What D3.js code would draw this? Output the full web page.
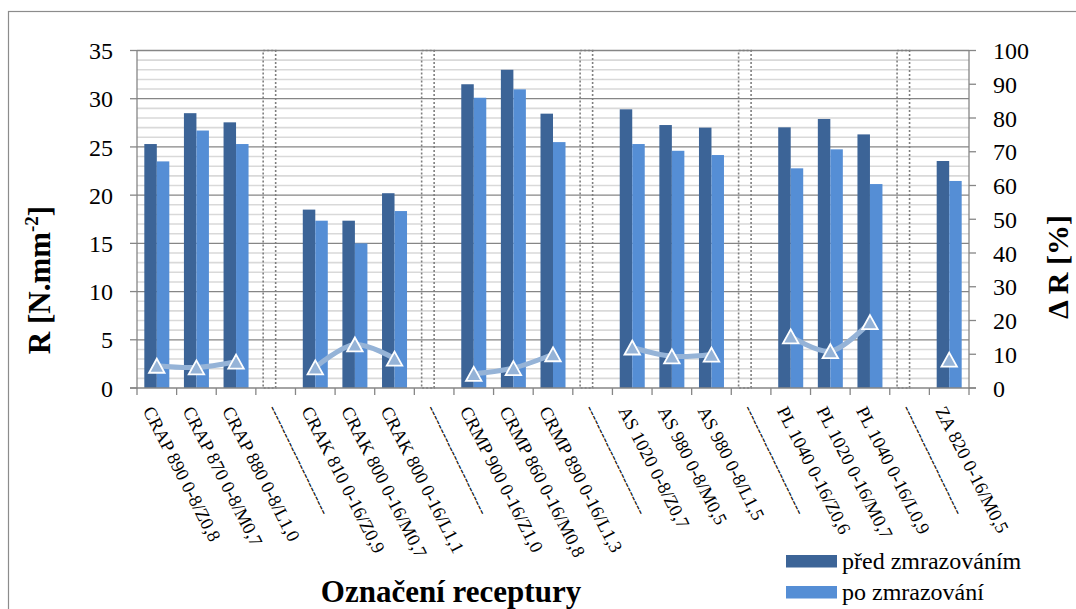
<!DOCTYPE html>
<html>
<head>
<meta charset="utf-8">
<script src="https://cdn.jsdelivr.net/npm/d3@7/dist/d3.min.js"></script>
<style>
  html, body { margin: 0; padding: 0; background: #fff; }
  svg { display: block; }
  text { font-family: "Liberation Serif", "Times New Roman", serif; fill: #000; }
</style>
</head>
<body>
<svg id="chart" width="1076" height="609"></svg>
<script>
// ---- data ----
const SEP = "------------------------";
const categories = [
  "CRAP 890 0-8/Z0,8", "CRAP 870 0-8/M0,7", "CRAP 880 0-8/L1,0", SEP,
  "CRAK 810 0-16/Z0,9", "CRAK 800 0-16/M0,7", "CRAK 800 0-16/L1,1", SEP,
  "CRMP 900 0-16/Z1,0", "CRMP 860 0-16/M0,8", "CRMP 890 0-16/L1,3", SEP,
  "AS 1020 0-8/Z0,7", "AS 980 0-8/M0,5", "AS 980 0-8/L1,5", SEP,
  "PL 1040 0-16/Z0,6", "PL 1020 0-16/M0,7", "PL 1040 0-16/L0,9", SEP,
  "ZA 820 0-16/M0,5"
];
const predValues = [25.3, 28.5, 27.55, null, 18.5, 17.35, 20.2, null, 31.5, 33.0, 28.45, null,
                    28.9, 27.27, 27.0, null, 27.03, 27.9, 26.3, null, 23.54];
const poValues   = [23.5, 26.7, 25.3, null, 17.35, 15.0, 18.35, null, 30.1, 30.97, 25.5, null,
                    25.3, 24.6, 24.16, null, 22.78, 24.75, 21.15, null, 21.47];
const separatorValues = [null, null, null, 35, null, null, null, 35, null, null, null, 35,
                         null, null, null, 35, null, null, null, 35, null];
const deltaR = [6.6, 6.1, 7.8, null, 6.1, 12.9, 8.7, null, 4.2, 5.9, 10.0, null,
                12.0, 9.4, 9.9, null, 15.3, 10.9, 19.5, null, 8.4];
const leftTicks = [0, 5, 10, 15, 20, 25, 30, 35];
const rightTicks = [0, 10, 20, 30, 40, 50, 60, 70, 80, 90, 100];
const seriesNames = ["před zmrazováním", "po zmrazování"];
const yTitle = "R [N.mm";
const yTitleSup = "-2";
const y2Title = "Δ R [%]";
const xTitle = "Označení receptury";

// ---- layout ----
const L = 137, R = 969, T = 50.5, B = 388;
const cDark = "#3c6497", cLight = "#558ed5", cLine = "#95b3d7", axisCol = "#868686";

const svg = d3.select("#chart");

// outer border
svg.append("rect").attr("x", 8.5).attr("y", 11.5).attr("width", 1100).attr("height", 700)
  .attr("fill", "none").attr("stroke", "#8c8c8c").attr("stroke-width", 1.2);

const idx = d3.range(categories.length);
const x = d3.scaleBand().domain(idx).range([L, R]).paddingInner(0).paddingOuter(0);
const xi = d3.scaleBand().domain(["pred", "po"]).range([0, x.bandwidth()]).paddingInner(0).paddingOuter(0.585);
const y = d3.scaleLinear().domain([0, 35]).range([B, T]);
const y2 = d3.scaleLinear().domain([0, 100]).range([B, T]);

// minor gridlines
const minor = d3.range(1, 35).filter(v => v % 5 !== 0);
svg.append("g").selectAll("line").data(minor).join("line")
  .attr("x1", L).attr("x2", R).attr("y1", d => y(d)).attr("y2", d => y(d))
  .attr("stroke", "#d9d9d9").attr("stroke-width", 1.6);
// major gridlines
svg.append("g").selectAll("line").data(leftTicks.filter(v => v > 0)).join("line")
  .attr("x1", L).attr("x2", R).attr("y1", d => y(d)).attr("y2", d => y(d))
  .attr("stroke", axisCol).attr("stroke-width", 1.3);

// bars
svg.append("g").selectAll("rect").data(idx.filter(i => predValues[i] != null)).join("rect")
  .attr("x", i => x(i) + xi("pred")).attr("width", xi.bandwidth())
  .attr("y", i => y(predValues[i])).attr("height", i => B - y(predValues[i]))
  .attr("fill", cDark);
svg.append("g").selectAll("rect").data(idx.filter(i => poValues[i] != null)).join("rect")
  .attr("x", i => x(i) + xi("po")).attr("width", xi.bandwidth())
  .attr("y", i => y(poValues[i])).attr("height", i => B - y(poValues[i]))
  .attr("fill", cLight);

// separator (dotted outline bars)
svg.append("g").selectAll("rect").data(idx.filter(i => separatorValues[i] != null)).join("rect")
  .attr("x", i => x(i) + xi("pred")).attr("width", xi.bandwidth())
  .attr("y", i => y(separatorValues[i])).attr("height", i => B - y(separatorValues[i]))
  .attr("fill", "none").attr("stroke", "#7f7f7f").attr("stroke-width", 1.6)
  .attr("stroke-dasharray", "2,2");

// axes lines
svg.append("line").attr("x1", L).attr("x2", L).attr("y1", T).attr("y2", B + 0.5)
  .attr("stroke", axisCol).attr("stroke-width", 1.3);
svg.append("line").attr("x1", R).attr("x2", R).attr("y1", T).attr("y2", B + 0.5)
  .attr("stroke", axisCol).attr("stroke-width", 1.3);
svg.append("line").attr("x1", L - 7).attr("x2", R + 7).attr("y1", B).attr("y2", B)
  .attr("stroke", axisCol).attr("stroke-width", 1.3);

// left ticks + labels
const gl = svg.append("g");
gl.selectAll("line").data(leftTicks).join("line")
  .attr("x1", L - 7).attr("x2", L).attr("y1", d => y(d)).attr("y2", d => y(d))
  .attr("stroke", axisCol).attr("stroke-width", 1.3);
gl.selectAll("text").data(leftTicks).join("text")
  .attr("x", L - 24).attr("y", d => y(d)).attr("dy", "0.36em")
  .attr("text-anchor", "end").attr("font-size", 24).text(d => d);

// right ticks + labels
const gr = svg.append("g");
gr.selectAll("line").data(rightTicks).join("line")
  .attr("x1", R).attr("x2", R + 7).attr("y1", d => y2(d)).attr("y2", d => y2(d))
  .attr("stroke", axisCol).attr("stroke-width", 1.3);
gr.selectAll("text").data(rightTicks).join("text")
  .attr("x", R + 24).attr("y", d => y2(d)).attr("dy", "0.36em")
  .attr("text-anchor", "start").attr("font-size", 24).text(d => d);

// bottom ticks (category boundaries)
const bounds = d3.range(categories.length + 1);
svg.append("g").selectAll("line").data(bounds).join("line")
  .attr("x1", i => L + i * x.step()).attr("x2", i => L + i * x.step())
  .attr("y1", B).attr("y2", B + 7)
  .attr("stroke", axisCol).attr("stroke-width", 1.3);

// category labels (rotated)
const angle = 63;
const g = svg.append("g");
g.selectAll("text").data(idx.filter(i => categories[i] !== SEP)).join("text")
  .attr("transform", i => `translate(${x(i) + x.bandwidth() / 2 - 8.5},${407.5}) rotate(${angle})`)
  .attr("dy", "0.35em")
  .attr("font-size", 18.5)
  .attr("text-anchor", "start")
  .text(i => categories[i]);
g.selectAll("text.sep").data(idx.filter(i => categories[i] === SEP)).join("text")
  .attr("class", "sep")
  .attr("transform", i => `translate(${x(i) + x.bandwidth() / 2 - 3},${406}) rotate(${angle + 1})`)
  .attr("dy", "0.3em")
  .attr("font-size", 15)
  .attr("text-anchor", "start")
  .text(i => categories[i]);

// delta R line
const pts = idx.map(i => deltaR[i] == null ? null : [x(i) + x.bandwidth() / 2, y2(deltaR[i])]);
const line = d3.line().defined(d => d != null).curve(d3.curveCatmullRom.alpha(0.5));
svg.append("path").attr("d", line(pts)).attr("fill", "none")
  .attr("stroke", cLine).attr("stroke-width", 5).attr("stroke-linecap", "round");

// triangle markers
const tw = 15.5, th = 14;
svg.append("g").selectAll("path").data(pts.filter(p => p != null)).join("path")
  .attr("d", p => `M${p[0]},${p[1] - th / 2} L${p[0] + tw / 2},${p[1] + th / 2} L${p[0] - tw / 2},${p[1] + th / 2} Z`)
  .attr("fill", cLine).attr("stroke", "#fff").attr("stroke-width", 1.8).attr("stroke-linejoin", "miter");

// axis titles
const yt = svg.append("text").attr("transform", "translate(50,280) rotate(-90)")
  .attr("text-anchor", "middle").attr("font-size", 31).attr("font-weight", "bold");
yt.append("tspan").text(yTitle);
yt.append("tspan").attr("font-size", 19).attr("dy", -12).text(yTitleSup);
yt.append("tspan").attr("dy", 12).text("]");

svg.append("text").attr("transform", "translate(1068,267) rotate(-90)")
  .attr("text-anchor", "middle").attr("font-size", 30).attr("font-weight", "bold").text(y2Title);

svg.append("text").attr("x", 451).attr("y", 602).attr("text-anchor", "middle")
  .attr("font-size", 31).attr("font-weight", "bold").text(xTitle);

// legend
const colors = [cDark, cLight];
const lg = svg.append("g");
seriesNames.forEach((n, k) => {
  lg.append("rect").attr("x", 786).attr("y", 555 + k * 31).attr("width", 51).attr("height", 12.5)
    .attr("fill", colors[k]);
  lg.append("text").attr("x", 842).attr("y", 569 + k * 31).attr("font-size", 24).text(n);
});
</script>
</body>
</html>
